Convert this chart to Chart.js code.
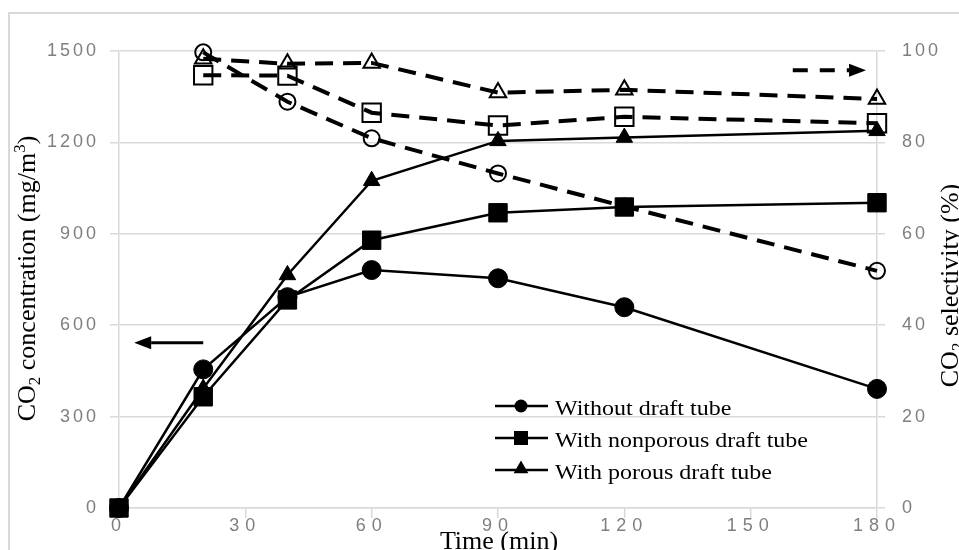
<!DOCTYPE html>
<html>
<head>
<meta charset="utf-8">
<title>CO2 concentration and selectivity</title>
<script src="https://cdn.jsdelivr.net/npm/chart.js@4.4.1/dist/chart.umd.min.js"></script>
<style>
  html, body { margin: 0; padding: 0; background: #fff; }
  #wrap { width: 959px; height: 550px; overflow: hidden; }
</style>
</head>
<body>
<div id="wrap"><canvas id="co2Chart" width="959" height="550"></canvas></div>
<script>
// time (min)
const timeConc = [0, 20, 40, 60, 90, 120, 180];
const timeSel = [20, 40, 60, 90, 120, 180];

// CO2 concentration (mg/m3), left axis
const concWithout = [0, 455, 692, 781, 754, 659, 391];
const concNonporous = [0, 365, 683, 879, 969, 988, 1002];
const concPorous = [0, 392, 765, 1074, 1205, 1216, 1238];

// CO2 selectivity (%), right axis
const selWithout = [99.7, 88.9, 80.9, 73.2, 66.0, 51.9];
const selNonporous = [94.7, 94.6, 86.5, 83.7, 85.6, 84.2];
const selPorous = [98.3, 97.2, 97.4, 90.9, 91.5, 89.5];

const xTicks = [0, 30, 60, 90, 120, 150, 180];
const concTicks = [0, 300, 600, 900, 1200, 1500];
const selTicks = [0, 20, 40, 60, 80, 100];
const legendLabels = ['Without draft tube', 'With nonporous draft tube', 'With porous draft tube'];

// arrows pointing to the axis each group belongs to (data coordinates)
const concArrow = { from: 20, to: 3.6, value: 542 };
const selArrow = { from: 160, to: 177.4, value: 95.8 };

const GRID = '#d9d9d9';
const TICK_FONT = { family: '"Liberation Sans", Arial, sans-serif', size: 18 };
const SERIF = '"Liberation Serif", "Times New Roman", serif';

function pts(xs, ys) {
  return xs.map((x, i) => ({ x: x, y: ys[i] }));
}

function solidSet(label, data, style, radius, order) {
  return {
    label: label,
    data: pts(timeConc, data),
    yAxisID: 'y',
    order: order,
    clip: false,
    borderColor: '#000',
    borderWidth: 2.5,
    pointStyle: style,
    pointRadius: radius,
    pointBackgroundColor: '#000',
    pointBorderColor: '#000',
    pointBorderWidth: 1
  };
}

function dashedSet(label, data, style, radius) {
  return {
    label: label,
    data: pts(timeSel, data),
    yAxisID: 'y1',
    order: 1,
    clip: false,
    borderColor: '#000',
    borderWidth: 4,
    borderDash: [18, 10],
    pointStyle: style,
    pointRadius: radius,
    pointBackgroundColor: 'rgba(0,0,0,0)',
    pointBorderColor: '#000',
    pointBorderWidth: 2
  };
}

function drawMarker(ctx, style, x, y, r) {
  ctx.beginPath();
  if (style === 'circle') {
    ctx.arc(x, y, r, 0, Math.PI * 2);
  } else if (style === 'rect') {
    ctx.rect(x - r, y - r, r * 2, r * 2);
  } else {
    ctx.moveTo(x, y - r);
    ctx.lineTo(x + r * 0.866, y + r / 2);
    ctx.lineTo(x - r * 0.866, y + r / 2);
    ctx.closePath();
  }
  ctx.fill();
}

function drawRich(ctx, parts, size) {
  // parts drawn centred on (0,0), baseline alphabetic
  const widths = parts.map(p => {
    ctx.font = (p.sub || p.sup ? Math.round(size * 0.65) : size) + 'px ' + SERIF;
    return ctx.measureText(p.t).width;
  });
  let x = -widths.reduce((a, b) => a + b, 0) / 2;
  parts.forEach((p, i) => {
    ctx.font = (p.sub || p.sup ? Math.round(size * 0.65) : size) + 'px ' + SERIF;
    const dy = p.sub ? size * 0.2 : (p.sup ? -size * 0.38 : 0);
    ctx.fillText(p.t, x, dy);
    x += widths[i];
  });
}

function arrow(ctx, x0, x1, y, dashed) {
  const dir = Math.sign(x1 - x0);
  const head = 17;
  ctx.save();
  ctx.strokeStyle = '#000';
  ctx.fillStyle = '#000';
  ctx.lineWidth = dashed ? 4 : 3;
  if (dashed) ctx.setLineDash([15, 12]);
  ctx.beginPath();
  ctx.moveTo(x0, y);
  ctx.lineTo(x1 - dir * head, y);
  ctx.stroke();
  ctx.setLineDash([]);
  ctx.beginPath();
  ctx.moveTo(x1, y);
  ctx.lineTo(x1 - dir * head, y - 6.5);
  ctx.lineTo(x1 - dir * head, y + 6.5);
  ctx.closePath();
  ctx.fill();
  ctx.restore();
}

// page frame + background
const framePlugin = {
  id: 'frame',
  beforeDraw(chart) {
    const ctx = chart.ctx;
    ctx.save();
    ctx.fillStyle = '#fff';
    ctx.fillRect(0, 0, chart.width, chart.height);
    ctx.strokeStyle = GRID;
    ctx.lineWidth = 2;
    ctx.strokeRect(9, 13, 1100, 700);
    ctx.restore();
  }
};

// spaced tick digits like the original
const tickSpacing = {
  id: 'tickSpacing',
  beforeDraw(chart) {
    const spacing = { x: '6px', y: '3px', y1: '3px' };
    Object.values(chart.scales).forEach(s => {
      if (s._spaced) return;
      const orig = s.drawLabels.bind(s);
      s.drawLabels = function (area) {
        const ctx = this.ctx;
        const old = ctx.letterSpacing;
        ctx.letterSpacing = spacing[s.id] || '0px';
        orig(area);
        ctx.letterSpacing = old;
      };
      s._spaced = true;
    });
  }
};

const decorations = {
  id: 'decorations',
  afterDraw(chart) {
    const ctx = chart.ctx;
    const sx = chart.scales.x, sy = chart.scales.y, sy1 = chart.scales.y1;
    const area = chart.chartArea;

    arrow(ctx, sx.getPixelForValue(concArrow.from), sx.getPixelForValue(concArrow.to), sy.getPixelForValue(concArrow.value), false);
    arrow(ctx, sx.getPixelForValue(selArrow.from), sx.getPixelForValue(selArrow.to), sy1.getPixelForValue(selArrow.value), true);

    // legend (solid series only)
    ctx.save();
    chart.data.datasets.slice(0, 3).forEach((ds, i) => {
      const y = 406 + i * 32;
      ctx.strokeStyle = '#000';
      ctx.lineWidth = 2.5;
      ctx.beginPath();
      ctx.moveTo(495, y);
      ctx.lineTo(548, y);
      ctx.stroke();
      ctx.fillStyle = '#000';
      const r = ds.pointStyle === 'circle' ? 6.5 : (ds.pointStyle === 'rect' ? 7 : 8.5);
      drawMarker(ctx, ds.pointStyle, 521, ds.pointStyle === 'triangle' ? y - 1 : y, r);
      ctx.save();
      ctx.translate(555, y + 9);
      ctx.scale(1.2, 1);
      ctx.font = '20px ' + SERIF;
      ctx.textBaseline = 'alphabetic';
      ctx.fillText(legendLabels[i], 0, 0);
      ctx.restore();
    });
    ctx.restore();

    // axis titles
    const midY = (area.top + area.bottom) / 2;
    ctx.save();
    ctx.fillStyle = '#000';
    ctx.textBaseline = 'alphabetic';
    ctx.textAlign = 'left';

    ctx.save();
    ctx.translate(35, midY - 1);
    ctx.rotate(-Math.PI / 2);
    drawRich(ctx, [{ t: 'CO' }, { t: '2', sub: true }, { t: ' concentration (mg/m' }, { t: '3', sup: true }, { t: ')' }], 26);
    ctx.restore();

    ctx.save();
    ctx.translate(958, midY + 6);
    ctx.rotate(-Math.PI / 2);
    drawRich(ctx, [{ t: 'CO' }, { t: '2', sub: true }, { t: ' selectivity (%)' }], 26);
    ctx.restore();

    ctx.save();
    ctx.translate((area.left + area.right) / 2 + 1, 549);
    drawRich(ctx, [{ t: 'Time (min)' }], 26);
    ctx.restore();
    ctx.restore();
  }
};

const plainTick = v => String(v);

new Chart(document.getElementById('co2Chart').getContext('2d'), {
  type: 'line',
  data: {
    datasets: [
      solidSet(legendLabels[0], concWithout, 'circle', 9.5, 0),
      solidSet(legendLabels[1], concNonporous, 'rect', 13, -1),
      solidSet(legendLabels[2], concPorous, 'triangle', 9.5, 0),
      dashedSet('Selectivity without draft tube', selWithout, 'circle', 8),
      dashedSet('Selectivity with nonporous draft tube', selNonporous, 'rect', 13),
      dashedSet('Selectivity with porous draft tube', selPorous, 'triangle', 9.5)
    ]
  },
  options: {
    responsive: false,
    animation: false,
    layout: { padding: { top: 51, left: 0, right: 0, bottom: 0 } },
    plugins: {
      legend: { display: false },
      tooltip: { enabled: false }
    },
    scales: {
      x: {
        type: 'linear',
        min: 0,
        max: 180,
        afterBuildTicks: s => { s.ticks = xTicks.map(v => ({ value: v })); },
        afterFit: s => { s.height = 42; },
        grid: { drawOnChartArea: false, color: GRID, lineWidth: 1.5, tickLength: 10 },
        border: { color: GRID, width: 1.5 },
        ticks: { color: '#7f7f7f', font: Object.assign({ lineHeight: 0.9 }, TICK_FONT), padding: 0, maxRotation: 0, callback: plainTick }
      },
      y: {
        position: 'left',
        min: 0,
        max: 1500,
        afterBuildTicks: s => { s.ticks = concTicks.map(v => ({ value: v })); },
        afterFit: s => { s.width = 119; },
        grid: { color: GRID, lineWidth: 1.5, tickLength: 9 },
        border: { color: GRID, width: 1.5 },
        ticks: { color: '#7f7f7f', font: TICK_FONT, padding: 11, callback: plainTick }
      },
      y1: {
        position: 'right',
        min: 0,
        max: 100,
        afterBuildTicks: s => { s.ticks = selTicks.map(v => ({ value: v })); },
        afterFit: s => { s.width = 82; },
        grid: { drawOnChartArea: false, color: GRID, lineWidth: 1.5, tickLength: 8 },
        border: { color: GRID, width: 1.5 },
        ticks: { color: '#7f7f7f', font: TICK_FONT, padding: 17, callback: plainTick }
      }
    }
  },
  plugins: [framePlugin, tickSpacing, decorations]
});
</script>
</body>
</html>
